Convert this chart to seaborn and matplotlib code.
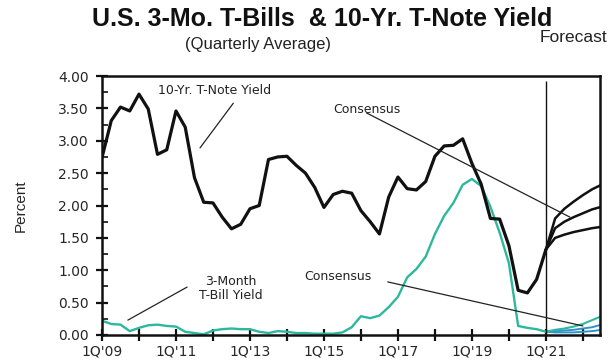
import numpy as np
import pandas as pd
import matplotlib
matplotlib.use("Agg")
import matplotlib.pyplot as plt
import seaborn as sns

# Quarterly averages, 1Q'09 - 1Q'21 (percent)
ten_year = [2.74, 3.31, 3.52, 3.46, 3.72, 3.49, 2.79, 2.86,
            3.46, 3.21, 2.43, 2.05, 2.04, 1.82, 1.64, 1.71,
            1.95, 2.00, 2.71, 2.75, 2.76, 2.62, 2.50, 2.28,
            1.97, 2.17, 2.22, 2.19, 1.92, 1.75, 1.56, 2.13,
            2.44, 2.26, 2.24, 2.37, 2.76, 2.92, 2.93, 3.03,
            2.65, 2.33, 1.80, 1.79, 1.38, 0.69, 0.65, 0.86,
            1.32]
three_month = [0.22, 0.17, 0.16, 0.06, 0.11, 0.15, 0.16, 0.14,
               0.13, 0.05, 0.03, 0.01, 0.07, 0.09, 0.10, 0.09,
               0.09, 0.05, 0.03, 0.06, 0.05, 0.03, 0.03, 0.02,
               0.02, 0.02, 0.04, 0.12, 0.29, 0.26, 0.30, 0.43,
               0.59, 0.89, 1.02, 1.21, 1.56, 1.84, 2.04, 2.32,
               2.41, 2.30, 1.98, 1.58, 1.11, 0.14, 0.11, 0.09,
               0.05]

# Forecast paths, 1Q'21 - 3Q'22 (high / consensus / low)
ten_year_high = [1.32, 1.80, 1.95, 2.06, 2.16, 2.25, 2.32]
ten_year_cons = [1.32, 1.65, 1.75, 1.82, 1.88, 1.94, 1.98]
ten_year_low = [1.32, 1.50, 1.55, 1.59, 1.62, 1.65, 1.67]
bill_high = [0.05, 0.08, 0.10, 0.13, 0.17, 0.23, 0.29]
bill_cons = [0.05, 0.06, 0.07, 0.08, 0.10, 0.12, 0.16]
bill_low = [0.05, 0.04, 0.04, 0.04, 0.05, 0.06, 0.08]

quarters = [f"{q}Q'{y % 100:02d}" for y in range(2009, 2023) for q in range(1, 5)][:55]
year_ticks = [f"1Q'{y % 100:02d}" for y in range(2009, 2023)]
forecast_start = "1Q'21"

y_ticks = [0.0, 0.5, 1.0, 1.5, 2.0, 2.5, 3.0, 3.5, 4.0]

pos = {q: i for i, q in enumerate(quarters)}
f0 = pos[forecast_start]

hist = pd.DataFrame({"t": np.arange(len(ten_year)),
                     "ten": ten_year, "bill": three_month})
fc = pd.DataFrame({"t": np.arange(f0, f0 + len(ten_year_high)),
                   "ten_hi": ten_year_high, "ten_c": ten_year_cons,
                   "ten_lo": ten_year_low, "bill_hi": bill_high,
                   "bill_c": bill_cons, "bill_lo": bill_low})

sns.set_style("white")
plt.rcParams["font.family"] = ["Liberation Sans", "DejaVu Sans"]

BLACK = "#111111"
TEAL = "#2db89e"
BLUE = "#2f93c9"
INK = "#222222"

fig = plt.figure(figsize=(6.1, 3.6), dpi=100)
ax = fig.add_axes([102 / 610, 25 / 360, 498 / 610, 259 / 360])

# T-bill forecasts and history
sns.lineplot(data=fc, x="t", y="bill_lo", ax=ax, color=BLUE, lw=1.4)
sns.lineplot(data=fc, x="t", y="bill_c", ax=ax, color=BLUE, lw=1.4)
sns.lineplot(data=fc, x="t", y="bill_hi", ax=ax, color=TEAL, lw=1.5)
sns.lineplot(data=hist, x="t", y="bill", ax=ax, color=TEAL, lw=1.7)

# 10-year forecasts and history
for col in ["ten_hi", "ten_c", "ten_lo"]:
    sns.lineplot(data=fc, x="t", y=col, ax=ax, color=BLACK, lw=1.8)
sns.lineplot(data=hist, x="t", y="ten", ax=ax, color=BLACK, lw=2.3)

# forecast divider
ax.vlines(f0, 0, 3.92, color=BLACK, lw=1.0)

ax.set_xlim(0, 53.85)
ax.set_ylim(0, 4.0)
ax.set_yticks(y_ticks)
ax.set_yticklabels([f"{v:.2f}" for v in y_ticks], family="DejaVu Sans", fontsize=10)
ax.set_yticks(np.arange(0.25, 4.0, 0.5), minor=True)
xt = [pos[q] for q in year_ticks if q in pos]
ax.set_xticks(xt)
ax.set_xticklabels([q if i % 2 == 0 else "" for i, q in enumerate(year_ticks) if q in pos],
                   family="DejaVu Sans", fontsize=10)
ax.tick_params(axis="both", which="major", direction="inout", length=9, width=1.6,
               color=BLACK, bottom=True, left=True)
ax.tick_params(axis="x", which="major", pad=2)
ax.tick_params(axis="y", which="major", pad=5)
ax.tick_params(axis="y", which="minor", direction="in", length=4, width=1.2,
               color=BLACK, left=True)
ax.set_xlabel("")
ax.set_ylabel("Percent", fontsize=11, labelpad=22)
for s in ax.spines.values():
    s.set_color(BLACK)
    s.set_linewidth(1.8)

# callout labels and their leader lines
txt = dict(family="DejaVu Sans", fontsize=9, color=INK)
lead = dict(arrowprops=dict(arrowstyle="-", color=INK, lw=0.9, shrinkA=0, shrinkB=0))
ax.text(6.05, 3.78, "10-Yr. T-Note Yield", ha="left", va="center", **txt)
ax.annotate("", xy=(10.6, 2.89), xytext=(14.2, 3.58), **lead)
ax.text(25.0, 3.49, "Consensus", ha="left", va="center", **txt)
ax.annotate("", xy=(50.6, 1.82), xytext=(28.6, 3.43), **lead)
ax.text(13.9, 0.72, "3-Month\nT-Bill Yield", ha="center", va="center",
        linespacing=1.15, **txt)
ax.annotate("", xy=(2.8, 0.23), xytext=(9.2, 0.74), **lead)
ax.text(21.9, 0.90, "Consensus", ha="left", va="center", **txt)
ax.annotate("", xy=(52.0, 0.14), xytext=(30.9, 0.82), **lead)

fig.text(322 / 610, 1 - 19 / 360, "U.S. 3-Mo. T-Bills  & 10-Yr. T-Note Yield",
         ha="center", va="center", fontsize=18, fontweight="bold", color=BLACK)
fig.text(258 / 610, 1 - 45 / 360, "(Quarterly Average)", ha="center", va="center",
         fontsize=12, color=INK)
fig.text(607 / 610, 1 - 37 / 360, "Forecast", ha="right", va="center",
         fontsize=12.5, color=INK)

fig.savefig("out.png", dpi=100, facecolor="white")
